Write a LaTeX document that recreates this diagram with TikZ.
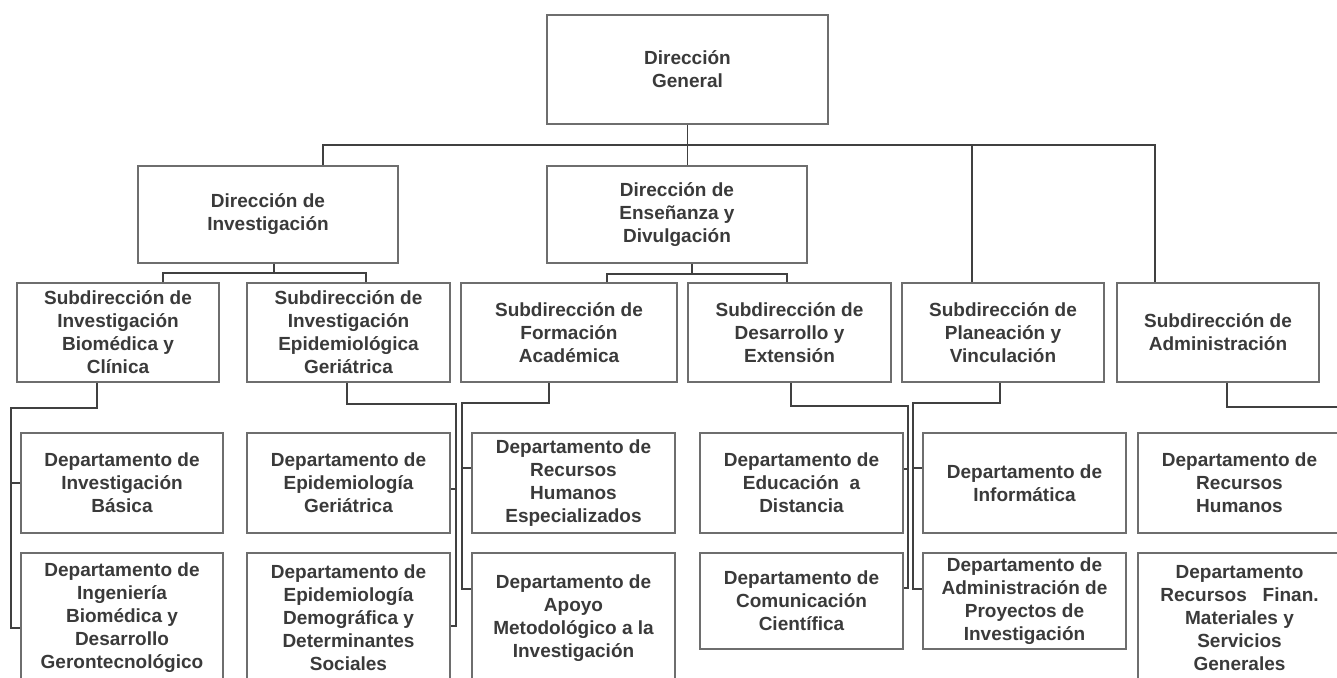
\documentclass[tikz,border=0pt]{standalone}
\usepackage{fontspec}
\setmainfont{Liberation Sans}
\definecolor{txt}{HTML}{3A3A3A}
\definecolor{brd}{HTML}{6E6E6E}
\definecolor{lnc}{HTML}{404040}
\newcommand\orgbox[6]{\node[box, minimum width={#4pt-#2pt}, minimum height={#5pt-#3pt}] (#1) at ({(#2+#4)/2},{(#3+#5)/2}) {#6};}
\begin{document}
\begin{tikzpicture}[x=1pt,y=-1pt,
  box/.style={draw=brd, line width=1.8pt, fill=white, text=txt, align=center, inner sep=0pt,
    font=\fontsize{19}{23}\selectfont\bfseries},
  conn/.style={draw=lnc, line width=1.4pt}]
\path[clip] (0,0) rectangle (1337,677);
\fill[white] (0,0) rectangle (1337,677);

\orgbox{DG}{547}{15}{828}{124}{Dirección\\General}
\orgbox{DI}{138}{166}{398}{263}{Dirección de\\Investigación}
\orgbox{DE}{547}{166}{807}{263}{Dirección de\\Enseñanza y\\Divulgación}
\orgbox{SA}{17}{283}{219}{382}{Subdirección de\\Investigación\\Biomédica y\\Clínica}
\orgbox{SB}{247}{283}{450}{382}{Subdirección de\\Investigación\\Epidemiológica\\Geriátrica}
\orgbox{SC}{461}{283}{677}{382}{Subdirección de\\Formación\\Académica}
\orgbox{SD}{688}{283}{891}{382}{Subdirección de\\Desarrollo y\\Extensión}
\orgbox{SE}{902}{283}{1104}{382}{Subdirección de\\Planeación y\\Vinculación}
\orgbox{SF}{1117}{283}{1319}{382}{Subdirección de\\Administración}
\orgbox{DA}{21}{433}{223}{533}{Departamento de\\Investigación\\Básica}
\orgbox{DB}{21}{553}{223}{683}{Departamento de\\Ingeniería\\Biomédica y\\Desarrollo\\Gerontecnológico}
\orgbox{DC}{247}{433}{450}{533}{Departamento de\\Epidemiología\\Geriátrica}
\orgbox{DD}{247}{553}{450}{683}{Departamento de\\Epidemiología\\Demográfica y\\Determinantes\\Sociales}
\orgbox{DF}{472}{433}{675}{533}{Departamento de\\Recursos\\Humanos\\Especializados}
\orgbox{DH}{472}{553}{675}{683}{Departamento de\\Apoyo\\Metodológico a la\\Investigación}
\orgbox{DJ}{700}{433}{903}{533}{Departamento de\\Educación\ \ a\\Distancia}
\orgbox{DK}{700}{553}{903}{649}{Departamento de\\Comunicación\\Científica}
\orgbox{DL}{923}{433}{1126}{533}{Departamento de\\Informática}
\orgbox{DM}{923}{553}{1126}{649}{Departamento de\\Administración\ de\\Proyectos\ de\\Investigación}
\orgbox{DN}{1138}{433}{1341}{533}{Departamento de\\Recursos\\Humanos}
\orgbox{DP}{1138}{553}{1341}{683}{Departamento\\Recursos\ \ \ Finan.\\Materiales y\\Servicios\\Generales}

% top level
\draw[conn] (DG.south) -- (DG.south |- DE.north);
\coordinate (busL) at (323,145);
\coordinate (busR) at (1155,145);
\coordinate (busP) at (972,145);
\draw[conn] (DI.north -| busL) -- (busL) -- (busR) -- (SF.north -| busR);
\draw[conn] (busP) -- (SE.north -| busP);

% Direccion de Investigacion
\coordinate (dib) at (274,273);
\coordinate (s1t) at (163,273);
\coordinate (s2t) at (366,273);
\draw[conn] (DI.south -| dib) -- (dib);
\draw[conn] (SA.north -| s1t) |- (s2t) -- (SB.north -| s2t);

% Direccion de Ensenanza
\coordinate (deb) at (692,274);
\coordinate (s3t) at (607,274);
\coordinate (s4t) at (787,274);
\draw[conn] (DE.south -| deb) -- (deb);
\draw[conn] (SC.north -| s3t) |- (s4t) -- (SD.north -| s4t);

% Subdirecciones -> departamentos
\coordinate (a1) at (97,408);  \coordinate (v1) at (11,408);
\draw[conn] (SA.south -| a1) -- (a1) -- (v1) |- ([yshift=-10pt]DB.west);
\draw[conn] (DA.west) -| (v1);

\coordinate (a2) at (347,404); \coordinate (v2) at (456,404);
\draw[conn] (SB.south -| a2) -- (a2) -- (v2) |- ([yshift=-8pt]DD.east);
\draw[conn] ([yshift=-6pt]DC.east) -| (v2);

\coordinate (a3) at (549,403); \coordinate (v3) at (462,403);
\draw[conn] (SC.south -| a3) -- (a3) -- (v3) |- ([yshift=29pt]DH.west);
\draw[conn] ([yshift=15pt]DF.west) -| (v3);

\coordinate (a4) at (791,406); \coordinate (v4) at (908,406);
\draw[conn] (SD.south -| a4) -- (a4) -- (v4) |- ([yshift=13pt]DK.east);
\draw[conn] ([yshift=14pt]DJ.east) -| (v4);

\coordinate (a5) at (1000,403); \coordinate (v5) at (913,403);
\draw[conn] (SE.south -| a5) -- (a5) -- (v5) |- ([yshift=12pt]DM.west);
\draw[conn] ([yshift=15pt]DL.west) -| (v5);

\coordinate (a6) at (1227,407); \coordinate (v6) at (1345,407);
\draw[conn] (SF.south -| a6) -- (a6) -- (v6);
\end{tikzpicture}
\end{document}
